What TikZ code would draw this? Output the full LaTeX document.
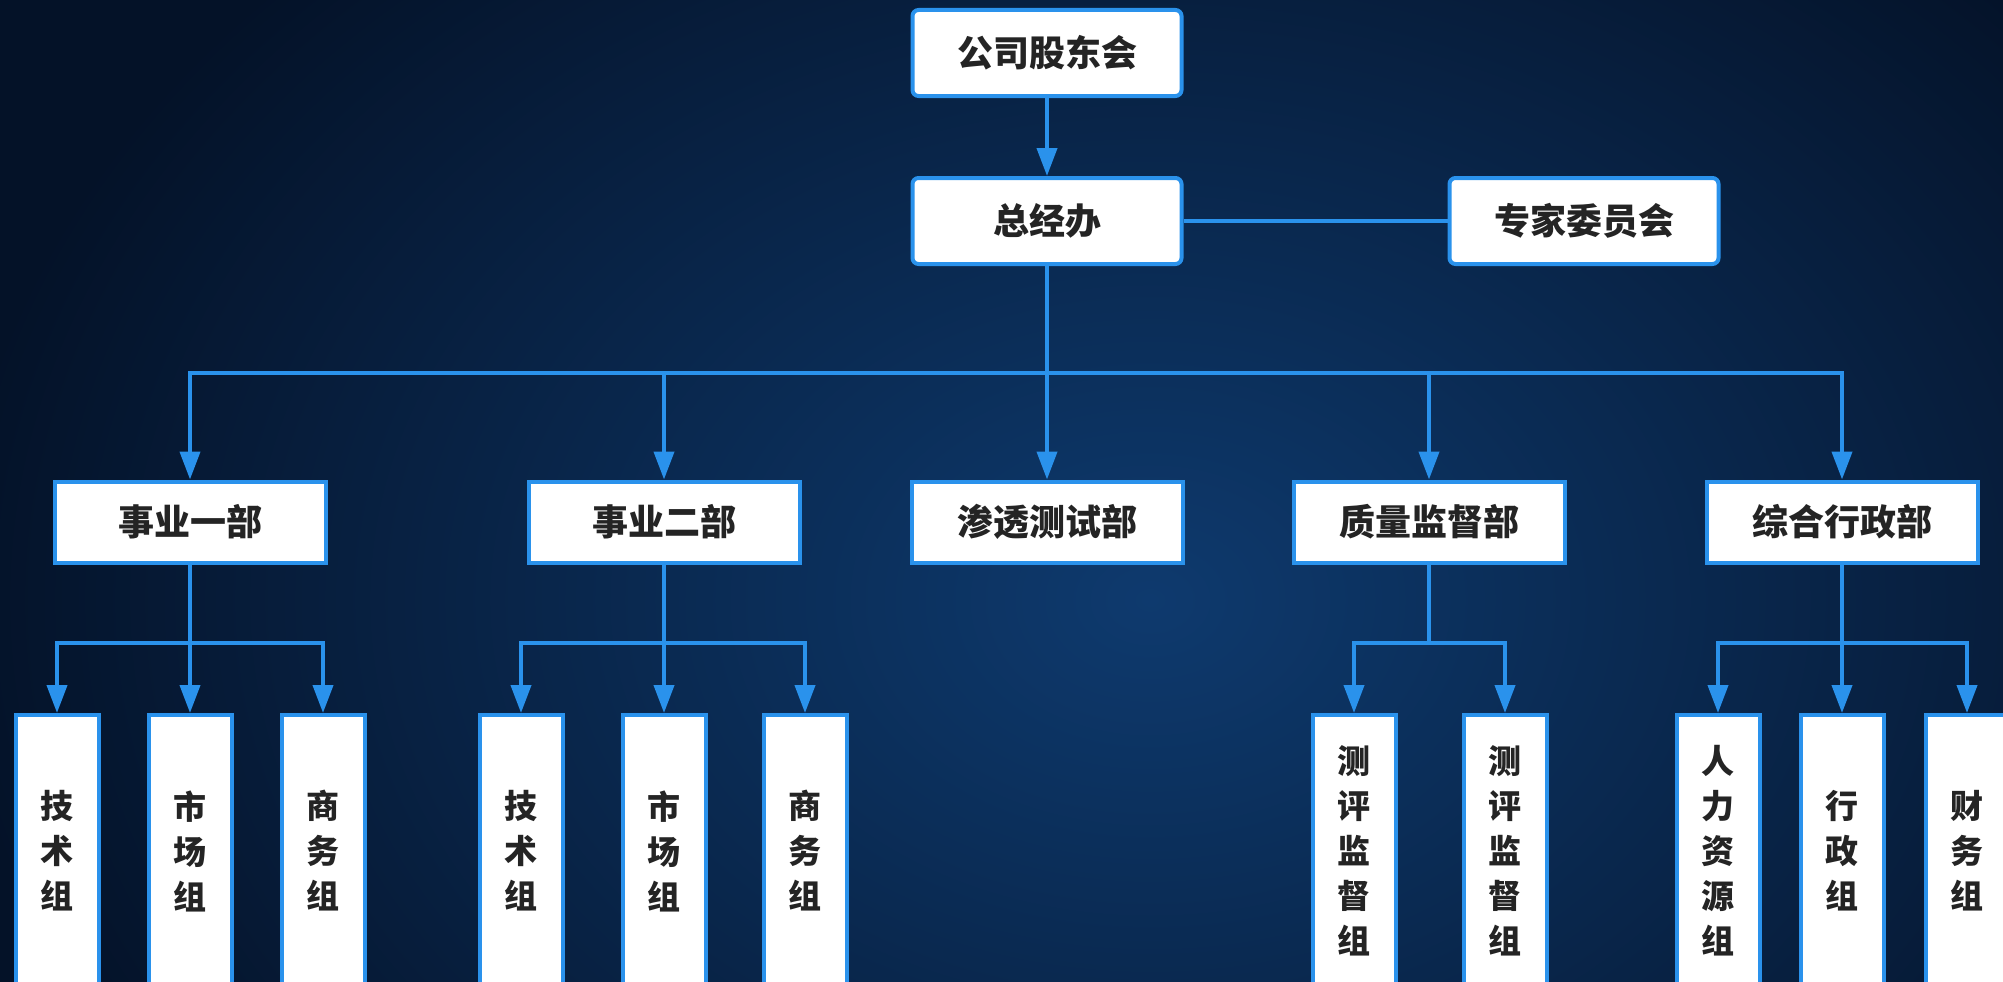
\documentclass[tikz,border=0pt]{standalone}
\usepackage{fontspec}
\newfontfamily\cjk{Noto Sans CJK SC}
\usetikzlibrary{arrows.meta}

\definecolor{chartcolor0000}{RGB}{4,18,40}
\definecolor{chartcolor0001}{RGB}{14,58,110}
\definecolor{chartcolor0002}{RGB}{42,146,236}
\definecolor{chartcolor0003}{RGB}{36,36,36}

\begin{document}
\begin{tikzpicture}[yscale=-1
                ,pstyle1/.style={draw=chartcolor0002,fill=white,line width=4pt,inner sep=0pt,text=chartcolor0003,font=\cjk\bfseries\fontsize{36}{42}\selectfont}
                ,pstyle2/.style={pstyle1,rounded corners=6pt,minimum width=269pt,minimum height=86pt}
                ,pstyle3/.style={pstyle1,minimum width=271pt,minimum height=81pt}
                ,pstyle4/.style={pstyle1,minimum width=83pt,minimum height=272pt,align=center,font=\cjk\bfseries\fontsize{33}{45}\selectfont}
                ,pstyle5/.style={color=chartcolor0002,line width=4pt}
                ,pstyle6/.style={pstyle5,-{Triangle[length=28pt,width=20pt]}}
            ]
            \useasboundingbox (0pt,0pt) rectangle (2003pt,982pt);
            \clip (0pt,0pt) rectangle (2003pt,982pt);
            \shade[inner color=chartcolor0001,outer color=chartcolor0000] (-50pt,-300pt) rectangle (2350pt,1500pt);
            % top
            \node[pstyle2] (board) at (1047pt,53pt) {公司股东会};
            \node[pstyle2] (gm) at (1047pt,221pt) {总经办};
            \node[pstyle2] (expert) at (1584pt,221pt) {专家委员会};
            \draw[pstyle6] (board) -- (gm);
            \draw[pstyle5] (gm) -- (expert);
            % departments
            \node[pstyle3] (bu1) at (190pt,522pt) {事业一部};
            \node[pstyle3] (bu2) at (664pt,522pt) {事业二部};
            \node[pstyle3] (pen) at (1047pt,522pt) {渗透测试部};
            \node[pstyle3] (qa) at (1429pt,522pt) {质量监督部};
            \node[pstyle3] (adm) at (1842pt,522pt) {综合行政部};
            \coordinate (hub) at (1047pt,373pt);
            \draw[pstyle6] (gm) -- (pen);
            \foreach \d in {bu1,bu2,qa,adm}
                \draw[pstyle6] (hub) -| (\d);
            % groups
            \node[pstyle4] (tech1) at (57pt,851pt) {技\\术\\组};
            \node[pstyle4] (mkt1) at (190pt,851pt) {市\\场\\组};
            \node[pstyle4] (biz1) at (323pt,851pt) {商\\务\\组};
            \node[pstyle4] (tech2) at (521pt,851pt) {技\\术\\组};
            \node[pstyle4] (mkt2) at (664pt,851pt) {市\\场\\组};
            \node[pstyle4] (biz2) at (805pt,851pt) {商\\务\\组};
            \node[pstyle4] (eval1) at (1354pt,851pt) {测\\评\\监\\督\\组};
            \node[pstyle4] (eval2) at (1505pt,851pt) {测\\评\\监\\督\\组};
            \node[pstyle4] (hr) at (1718pt,851pt) {人\\力\\资\\源\\组};
            \node[pstyle4] (admin) at (1842pt,851pt) {行\\政\\组};
            \node[pstyle4] (fin) at (1967pt,851pt) {财\\务\\组};
            \foreach \d/\g in {bu1/tech1,bu1/mkt1,bu1/biz1,bu2/tech2,bu2/mkt2,bu2/biz2,qa/eval1,qa/eval2,adm/hr,adm/admin,adm/fin}
                \draw[pstyle6] (\d.south) -- ++(0pt,78pt) -| (\g);
        \end{tikzpicture}
\end{document}
